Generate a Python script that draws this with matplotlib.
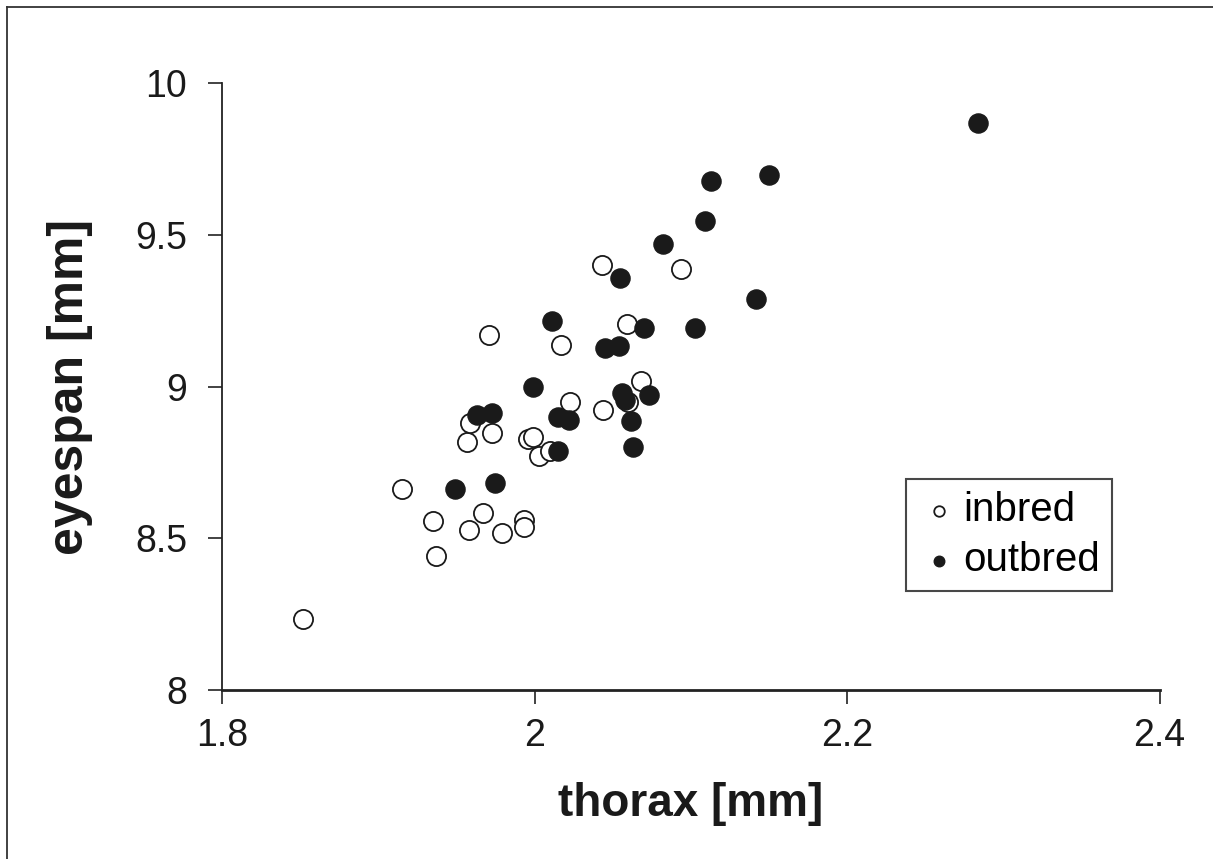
import numpy as np
import matplotlib
matplotlib.use('Agg')
import matplotlib.pyplot as plt
from matplotlib.lines import Line2D

plt.rcParams['font.family'] = ['Liberation Sans', 'DejaVu Sans']

# inbred flies (open circles)
inbred_thorax = [1.852, 1.915, 1.935, 1.937, 1.958, 1.967, 1.979, 1.993, 1.993,
                 1.957, 1.959, 1.973, 1.971, 1.996, 1.999, 2.003, 2.010, 2.017,
                 2.023, 2.043, 2.044, 2.059, 2.060, 2.068, 2.094]
inbred_eyespan = [8.234, 8.661, 8.558, 8.441, 8.527, 8.584, 8.516, 8.560, 8.536,
                  8.816, 8.881, 8.846, 9.170, 8.826, 8.832, 8.771, 8.789, 9.137,
                  8.950, 9.400, 8.923, 9.206, 8.950, 9.018, 9.387]

# outbred flies (filled circles)
outbred_thorax = [1.949, 1.975, 1.963, 1.973, 1.999, 2.011, 2.015, 2.022, 2.015,
                  2.045, 2.054, 2.055, 2.056, 2.058, 2.062, 2.063, 2.070, 2.073,
                  2.082, 2.103, 2.109, 2.113, 2.142, 2.150, 2.284]
outbred_eyespan = [8.661, 8.683, 8.906, 8.914, 8.997, 9.216, 8.900, 8.890, 8.789,
                   9.126, 9.134, 9.356, 8.980, 8.956, 8.886, 8.802, 9.194, 8.972,
                   9.470, 9.194, 9.545, 9.677, 9.287, 9.697, 9.868]

fig = plt.figure(figsize=(12.13, 8.59), dpi=100)
ax = fig.add_axes([0.183, 0.1967, 0.773, 0.7067])

ax.scatter(inbred_thorax, inbred_eyespan, s=190, facecolors='white',
           edgecolors='#1a1a1a', linewidths=1.3, label='inbred', zorder=3)
ax.scatter(outbred_thorax, outbred_eyespan, s=190, facecolors='#1a1a1a',
           edgecolors='#1a1a1a', linewidths=1.0, label='outbred', zorder=3)

ax.set_xlim(1.8, 2.4)
ax.set_ylim(8, 10)
ax.set_xticks([1.8, 2.0, 2.2, 2.4])
ax.set_xticklabels(['1.8', '2', '2.2', '2.4'])
ax.set_yticks([8, 8.5, 9, 9.5, 10])
ax.set_yticklabels(['8', '8.5', '9', '9.5', '10'])

for side in ['top', 'right']:
    ax.spines[side].set_visible(False)
ax.spines['left'].set_linewidth(1.3)
ax.spines['bottom'].set_linewidth(2.0)
ax.spines['left'].set_color('#222222')
ax.spines['bottom'].set_color('#222222')
ax.tick_params(axis='both', direction='out', length=10, width=1.2,
               colors='#222222', labelsize=27, labelcolor='#1a1a1a')
ax.tick_params(axis='y', pad=15)
ax.tick_params(axis='x', pad=10)

ax.set_xlabel('thorax [mm]', fontsize=33, fontweight='bold', labelpad=20,
              color='#1a1a1a')
ax.set_ylabel('eyespan [mm]', fontsize=36, fontweight='bold', labelpad=30,
              color='#1a1a1a')

leg = ax.legend(loc='upper left', bbox_to_anchor=(0.730, 0.3476), fontsize=29,
                frameon=True, fancybox=False, edgecolor='#1a1a1a',
                markerscale=0.55, handletextpad=0.1, borderpad=0.3,
                labelspacing=0.3, handlelength=1.0, borderaxespad=0)
leg.get_frame().set_linewidth(1.5)

# outer frame (only top and left edges visible in the crop)
fig.add_artist(Line2D([7/1213, 7/1213], [0, 1 - 7/859], color='#333333',
                      linewidth=1.3, transform=fig.transFigure))
fig.add_artist(Line2D([7/1213, 1], [1 - 7/859, 1 - 7/859], color='#333333',
                      linewidth=1.3, transform=fig.transFigure))

fig.savefig('out.png', dpi=100)
